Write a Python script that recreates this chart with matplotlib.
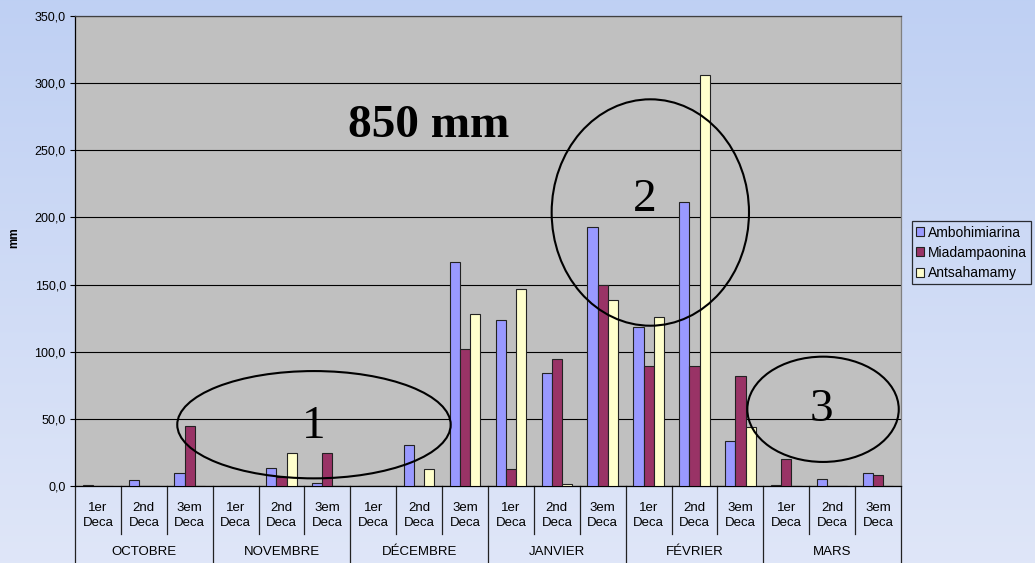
import numpy as np
import matplotlib
matplotlib.use("Agg")
import matplotlib.pyplot as plt
from matplotlib.patches import Ellipse
from matplotlib.ticker import FuncFormatter
import matplotlib.transforms as mtransforms

plt.rcParams["font.family"] = ["Liberation Sans", "DejaVu Sans"]

# rainfall per decade (mm)
months = ["OCTOBRE", "NOVEMBRE", "DÉCEMBRE", "JANVIER", "FÉVRIER", "MARS"]
decades = ["1er\nDeca", "2nd\nDeca", "3em\nDeca"]
stations = ["Ambohimiarina", "Miadampaonina", "Antsahamamy"]

ambohimiarina = [0.5, 4.7, 9.4, 0, 13.2, 2.0, 0, 30.5, 167.0,
                 123.6, 83.9, 192.9, 118.4, 211.5, 33.8, 0.5, 5.0, 9.4]
miadampaonina = [0, 0, 44.7, 0, 7.0, 24.8, 0, 0, 101.8,
                 12.4, 94.8, 149.9, 89.6, 89.6, 82.2, 20.1, 0, 8.2]
antsahamamy = [0, 0, 0, 0, 24.3, 0, 0, 12.4, 127.9,
               146.5, 1.3, 138.8, 125.9, 306.0, 43.9, 0, 0, 0]

colors = ["#9999FF", "#993366", "#FFFFCC"]

fig = plt.figure(figsize=(10.35, 5.63), dpi=100)

# light blue gradient behind everything
bg = fig.add_axes([0, 0, 1, 1], zorder=-10)
grad = np.linspace(0, 1, 256).reshape(-1, 1)
top = np.array([0.749, 0.816, 0.953])
bot = np.array([0.875, 0.902, 0.973])
img = top + (bot - top) * grad[:, :, None]
bg.imshow(img, aspect="auto", extent=[0, 1, 0, 1])
bg.axis("off")

ax = fig.add_axes([0.07246, 0.13677, 0.7981, 0.8348])
ax.set_facecolor("#C0C0C0")

n = len(ambohimiarina)
x = np.arange(n)
w = 0.222
series = [ambohimiarina, miadampaonina, antsahamamy]
for k, (vals, c, name) in enumerate(zip(series, colors, stations)):
    ax.bar(x + (k - 1) * w, vals, width=w, color=c, edgecolor="#222222",
           linewidth=0.8, label=name, zorder=3)

ax.set_xlim(-0.5, n - 0.5)
ax.set_ylim(0, 350)
ax.set_yticks(np.arange(0, 351, 50))
ax.yaxis.set_major_formatter(FuncFormatter(lambda v, p: f"{v:.1f}".replace(".", ",")))
ax.tick_params(axis="y", direction="out", length=3.6, width=0.8, pad=3,
               labelsize=9, colors="black")
ax.yaxis.grid(True, color="black", linewidth=0.8, zorder=1)
ax.set_xticks([])

ax.spines["left"].set_color("black")
ax.spines["bottom"].set_color("black")
ax.spines["right"].set_color("#808080")
ax.spines["top"].set_color("#404040")
for s in ax.spines.values():
    s.set_linewidth(0.9)

# two-level category axis
trans = mtransforms.blended_transform_factory(ax.transData, ax.transAxes)
for i in range(n):
    ax.text(i, -0.0628, decades[i % 3], transform=trans, ha="center",
            va="center", fontsize=9.5, linespacing=1.3, clip_on=False)
for i in range(n + 1):
    low = -0.164 if i % 3 == 0 else -0.102
    ax.plot([i - 0.5, i - 0.5], [0, low], transform=trans, color="#222222",
            linewidth=0.9, clip_on=False)
for j, m in enumerate(months):
    ax.text(3 * j + 1, -0.141, m, transform=trans, ha="center", va="center",
            fontsize=9.5, clip_on=False)

fig.text(14 / 1035, 1 - 238 / 563, "mm", rotation=90, ha="center",
         va="center", fontsize=8.5, fontweight="bold")

# annotations over the plot area
ellipses = [(0.2893, 0.1304, 0.331, 0.2283),
            (0.6965, 0.5819, 0.2389, 0.4817),
            (0.9056, 0.1632, 0.1833, 0.224)]
for cx, cy, ew, eh in ellipses:
    ax.add_patch(Ellipse((cx, cy), ew, eh, transform=ax.transAxes,
                         fill=False, edgecolor="black", linewidth=1.5,
                         zorder=5, clip_on=False))
serif = ["Liberation Serif", "DejaVu Serif"]
for s, (tx, ty) in zip(["1", "2", "3"], [(0.2893, 0.1255), (0.690, 0.6085), (0.904, 0.1617)]):
    ax.text(tx, ty, s, transform=ax.transAxes, ha="center", va="center",
            fontsize=34, family=serif, zorder=6)
ax.text(0.4286, 0.765, "850 mm", transform=ax.transAxes, ha="center",
        va="center", fontsize=34, family=serif, fontweight="bold", zorder=6)

leg = ax.legend(loc="center left", bbox_to_anchor=(0.881, 0.551),
                bbox_transform=fig.transFigure, borderaxespad=0, fontsize=10,
                frameon=True, fancybox=False, handlelength=0.6,
                handleheight=0.6, handletextpad=0.25, borderpad=0.3,
                labelspacing=0.45)
leg.get_frame().set_edgecolor("black")
leg.get_frame().set_facecolor("none")
leg.get_frame().set_linewidth(0.9)

fig.savefig("out.png", dpi=100)
